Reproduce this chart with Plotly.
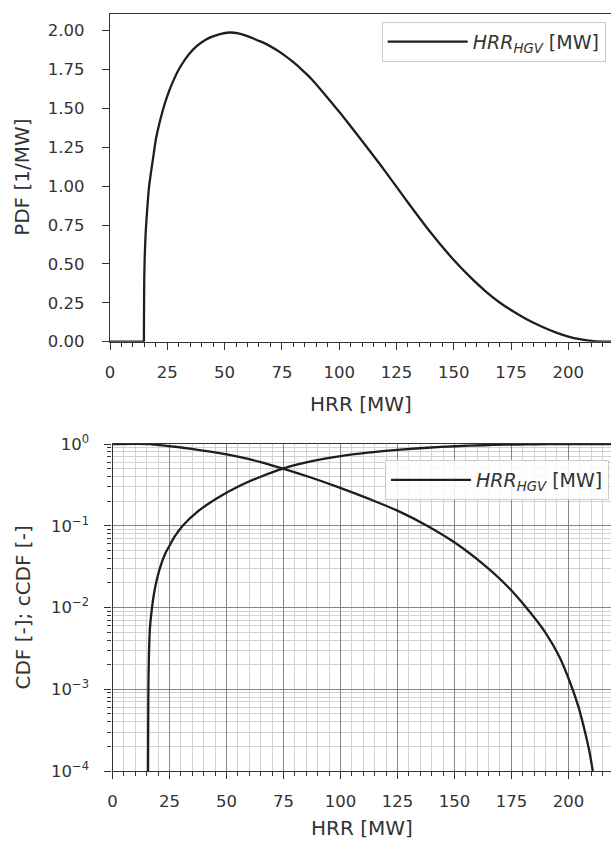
import plotly.graph_objects as go

# ---------------- data ----------------
# PDF: zero plateau, then the distribution body
pdf_flat_hrr = [0, 14.8]
pdf_flat_val = [0, 0]
pdf_hrr = [14.8, 15.0, 15.5, 16.0, 17.0, 18.0, 19.0, 20.0, 22.0, 24.0, 26.0, 28.0,
           30.0, 33.0, 36.0, 40.0, 44.0, 48.0, 52.0, 56.0, 60.0, 64.0, 68.0, 72.0, 76.0,
           80.0, 84.0, 88.0, 94.0, 100.0, 110.0, 120.0, 130.0, 140.0, 150.0, 157.0, 164.0,
           170.0, 176.0, 182.0, 189.0, 195.0, 200.0, 205.0, 210.0, 215.0, 218.6]
pdf_val = [0, 0.45, 0.68, 0.80, 0.99, 1.10, 1.20, 1.30, 1.43, 1.535, 1.62, 1.69,
           1.75, 1.82, 1.875, 1.925, 1.958, 1.978, 1.988, 1.983, 1.965, 1.94, 1.915, 1.882, 1.843,
           1.797, 1.745, 1.688, 1.585, 1.478, 1.29, 1.097, 0.895, 0.70, 0.525, 0.418, 0.322,
           0.252, 0.194, 0.143, 0.093, 0.057, 0.033, 0.016, 0.0055, 0.0008, 0.0]

cdf_hrr = [15.6, 15.65, 15.75, 15.95, 16.4, 17.1, 18.5, 20.5, 23.1, 25.0, 27.4, 30.8,
           36.8, 46.2, 55.0, 65.0, 74.8, 87.0, 99.3, 112.0, 125.0, 138.0, 150.6, 162.6,
           172.9, 181.5, 190.0, 201.2, 210.7, 218.7]
cdf_val = [1e-4, 3e-4, 1e-3, 0.0024, 0.0055, 0.0088, 0.0165, 0.0285, 0.0455, 0.057, 0.0745, 0.1,
           0.145, 0.22, 0.30, 0.398, 0.5, 0.611, 0.705, 0.784, 0.847, 0.9, 0.939, 0.966,
           0.981, 0.99, 0.995, 0.9989, 0.9999, 1.0]

ccdf_hrr = [0, 15.6, 17.1, 18.5, 20.5, 23.1, 25.0, 27.4, 30.8, 36.8, 46.2, 55.0, 65.0,
            74.8, 87.0, 99.3, 112.0, 125.0, 138.0, 150.6, 162.6, 172.9, 181.5, 190.0,
            196.0, 201.2, 204.5, 207.3, 209.2, 210.7]
ccdf_val = [1.0, 1.0, 0.991, 0.9835, 0.9715, 0.9545, 0.943, 0.9255, 0.9, 0.855, 0.78, 0.70,
            0.602, 0.5, 0.389, 0.295, 0.216, 0.153, 0.1, 0.061, 0.0339, 0.0186, 0.01,
            0.0049, 0.00251, 0.00112, 0.0006, 0.0003, 0.000174, 0.0001]

x_ticks = [0, 25, 50, 75, 100, 125, 150, 175, 200]
pdf_ticks = [0, 0.25, 0.5, 0.75, 1.0, 1.25, 1.5, 1.75, 2.0]
log_ticks = [1e-4, 1e-3, 1e-2, 1e-1, 1]
log_ticktext = ["10<sup>\u22124</sup>", "10<sup>\u22123</sup>", "10<sup>\u22122</sup>",
                "10<sup>\u22121</sup>", "10<sup>0</sup>"]

legend_label = "<i>HRR</i><sub><i>HGV</i></sub> [MW]"
x_title = "HRR [MW]"
y1_title = "PDF [1/MW]"
y2_title = "CDF [-]; cCDF [-]"

# ---------------- layout constants ----------------
W, H = 611, 841
FONT = "DejaVu Sans"
TXT = "#333333"
LINE = "#1e1e1e"
AX = "#333333"


def px_x(p):
    return p / W


def px_y(p):
    return 1 - p / H


top_dom = [px_y(341.7), px_y(14)]
bot_dom = [px_y(771), px_y(444)]
curve = dict(color=LINE, width=2.3, shape="spline", smoothing=0.9)
flat = dict(color=LINE, width=2.3)

fig = go.Figure()
fig.add_trace(go.Scatter(x=pdf_flat_hrr, y=pdf_flat_val, mode="lines", name=legend_label,
                         line=flat, xaxis="x", yaxis="y", showlegend=False))
fig.add_trace(go.Scatter(x=pdf_hrr, y=pdf_val, mode="lines", name=legend_label,
                         line=curve, xaxis="x", yaxis="y", legend="legend"))
fig.add_trace(go.Scatter(x=cdf_hrr, y=cdf_val, mode="lines", name=legend_label,
                         line=curve, xaxis="x2", yaxis="y2", legend="legend2"))
fig.add_trace(go.Scatter(x=ccdf_hrr, y=ccdf_val, mode="lines", name=legend_label,
                         line=curve, xaxis="x2", yaxis="y2", showlegend=False))

tickfont = dict(family=FONT, size=16.5, color=TXT)
common_x = dict(tickvals=x_ticks, ticks="outside", ticklen=7, tickwidth=1.2, tickcolor=AX,
                showline=True, linecolor=AX, linewidth=1.2, mirror=True, zeroline=False,
                tickfont=tickfont, ticklabelstandoff=8, automargin=False)

fig.update_layout(
    width=W, height=H,
    margin=dict(l=0, r=0, t=0, b=0, pad=0, autoexpand=False),
    paper_bgcolor="white", plot_bgcolor="white",
    font=dict(family=FONT, color=TXT),
    xaxis=dict(domain=[px_x(110), 1], range=[0, 218.6], anchor="y", showgrid=False,
               minor=dict(dtick=5, ticks="outside", ticklen=4, tickcolor=AX, showgrid=False),
               **common_x),
    yaxis=dict(domain=top_dom, range=[0, 2.107], anchor="x", tickvals=pdf_ticks,
               tickformat=".2f", ticks="outside", ticklen=7, tickwidth=1.2, tickcolor=AX,
               showline=True, linecolor=AX, linewidth=1.2, showgrid=False, zeroline=False,
               tickfont=tickfont, ticklabelstandoff=14, automargin=False),
    xaxis2=dict(domain=[px_x(112.5), 1], range=[0, 218.7], anchor="y2", showgrid=True,
                gridcolor="#858585", gridwidth=1.1,
                minor=dict(dtick=5, ticks="outside", ticklen=4, tickcolor=AX,
                           showgrid=True, gridcolor="#d2d2d2", gridwidth=1),
                **common_x),
    yaxis2=dict(domain=bot_dom, type="log", range=[-4, 0], anchor="x2",
                tickvals=log_ticks, ticktext=log_ticktext,
                ticks="outside", ticklen=7, tickwidth=1.2, tickcolor=AX,
                showline=True, linecolor=AX, linewidth=1.2, showgrid=True,
                gridcolor="#858585", gridwidth=1.1, zeroline=False,
                minor=dict(dtick="D1", ticks="outside", ticklen=4, tickcolor=AX,
                           showgrid=True, gridcolor="#d2d2d2", gridwidth=1),
                tickfont=tickfont, ticklabelstandoff=12, automargin=False),
    legend=dict(x=px_x(381.7), y=px_y(21.7), xanchor="left", yanchor="top",
                bgcolor="rgba(255,255,255,0.85)", bordercolor="#cccccc", borderwidth=1,
                font=dict(family=FONT, size=19, color=TXT), itemwidth=80),
    legend2=dict(x=px_x(385), y=px_y(460), xanchor="left", yanchor="top",
                 bgcolor="rgba(255,255,255,0.85)", bordercolor="#cccccc", borderwidth=1,
                 font=dict(family=FONT, size=19, color=TXT), itemwidth=80),
)

title_font = dict(family=FONT, size=20, color=TXT)
annos = [
    dict(text=x_title, x=(px_x(110) + 1) / 2, y=px_y(404), xref="paper", yref="paper",
         showarrow=False, font=title_font, xanchor="center", yanchor="middle"),
    dict(text=x_title, x=(px_x(112.5) + 1) / 2, y=px_y(828), xref="paper", yref="paper",
         showarrow=False, font=title_font, xanchor="center", yanchor="middle"),
    dict(text=y1_title, x=px_x(22), y=sum(top_dom) / 2, xref="paper", yref="paper",
         showarrow=False, font=title_font, textangle=-90, xanchor="center", yanchor="middle"),
    dict(text=y2_title, x=px_x(22), y=sum(bot_dom) / 2, xref="paper", yref="paper",
         showarrow=False, font=title_font, textangle=-90, xanchor="center", yanchor="middle"),
]
fig.update_layout(annotations=annos)

fig.write_html("out.html")
